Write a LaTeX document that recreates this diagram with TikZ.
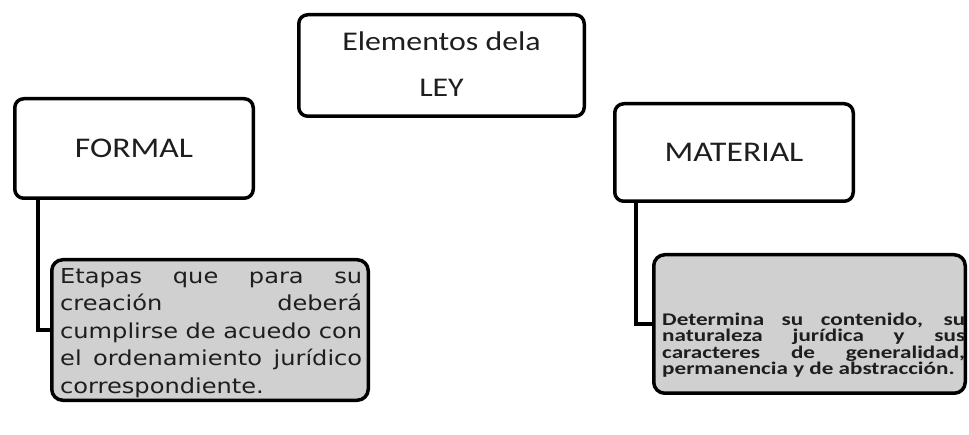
\documentclass[tikz,border=0pt]{standalone}
\usepackage{fontspec}
\newfontfamily\titulo[FakeStretch=1.18]{Carlito}
\newfontfamily\cuerpo[FakeStretch=1.17]{DejaVu Sans}
\newfontfamily\nota[FakeStretch=1.3]{Carlito}
\definecolor{grisclaro}{HTML}{D0D0D0}
\definecolor{tinta}{HTML}{1E1E1E}

\begin{document}
\begin{tikzpicture}[x=1pt, y=-1pt,
    caja/.style={draw, line width=3.5pt, rounded corners=9pt, inner sep=0pt, text=tinta, align=center},
    gris/.style={caja, fill=grisclaro, rounded corners=11pt},
    conector/.style={line width=3.5pt}]

    % marco
    \useasboundingbox (0,0) rectangle (969,435);

    % titulo
    \node[caja, minimum width=285.5pt, minimum height=101.5pt, font=\titulo\fontsize{27}{46}\selectfont] (ley) at (441.5,65.5) {\raisebox{2.5pt}{Elementos dela}\\\raisebox{2.5pt}{LEY}};

    % ramas
    \node[caja, minimum width=238.5pt, minimum height=99.5pt, font=\titulo\fontsize{28.5}{34}\selectfont] (formal) at (134,148.5) {FORMAL};
    \node[caja, minimum width=238.5pt, minimum height=97.5pt, font=\titulo\fontsize{28.5}{34}\selectfont] (material) at (734,152.5) {MATERIAL};

    % detalle formal
    \node[gris, minimum width=316.5pt, minimum height=140.5pt] (etapas) at (210,330) {};
    \node[anchor=north west, inner sep=0pt, text width=302pt, align=justify, text=tinta, font=\cuerpo\fontsize{20.6}{27.5}\selectfont] (etapasTexto) at (60,268) {Etapas que para su\linebreak creación deberá\linebreak cumplirse de acuedo con\linebreak el ordenamiento jurídico\linebreak correspondiente.};

    % detalle material
    \node[gris, minimum width=311.5pt, minimum height=138.5pt] (determina) at (809.5,324) {};
    \node[anchor=north west, inner sep=0pt, text width=303pt, align=justify, text=tinta, font=\nota\bfseries\fontsize{17.8}{13.6}\selectfont] (determinaTexto) at (662,313) {Determina su contenido, su\linebreak naturaleza jurídica y sus\linebreak caracteres de generalidad,\linebreak permanencia y de abstracción.};

    % conectores
    \draw[conector] ([xshift=25pt]formal.south west) |- (etapas.west);
    \draw[conector] ([xshift=23pt]material.south west) |- (determina.west);

\end{tikzpicture}
\end{document}
